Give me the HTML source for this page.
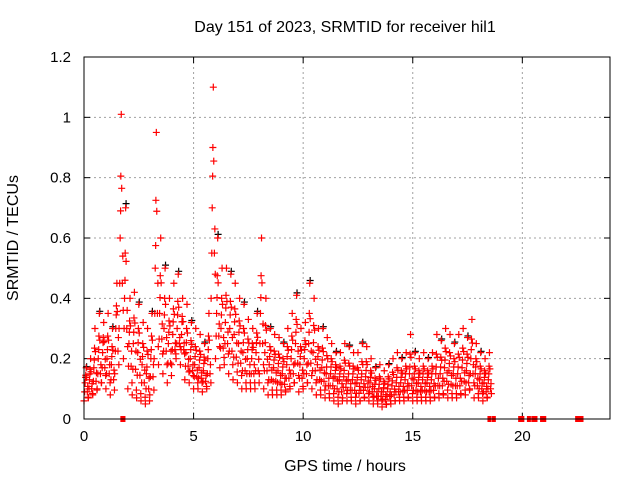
<!DOCTYPE html>
<html><head><meta charset="utf-8"><style>
body{margin:0;background:#fff;}
svg{display:block;font-family:"Liberation Sans",sans-serif;}
</style></head><body>
<svg id="c" width="640" height="480">
<text x="345" y="32" font-size="16" text-anchor="middle">Day 151 of 2023, SRMTID for receiver hil1</text>
<text x="345" y="471" font-size="16" text-anchor="middle">GPS time / hours</text>
<text transform="translate(18,238) rotate(-90)" font-size="16" text-anchor="middle">SRMTID / TECUs</text>
<g id="grid"></g><g id="ticks"></g><g id="marks"></g>
<rect x="84" y="57" width="526" height="362" fill="none" stroke="#000"/>
</svg>
<script>
const times=[0,0.2,0.4,0.6,0.8,1.0,1.2,1.4,1.6,1.8,2.0,2.2,2.4,2.6,2.8,3.0,3.2,3.4,3.6,3.8,4.0,4.2,4.4,4.6,4.8,5.0,5.2,5.4,5.6,5.8,6.0,6.2,6.4,6.6,6.8,7.0,7.2,7.4,7.6,7.8,8.0,8.2,8.4,8.6,8.8,9.0,9.2,9.4,9.6,9.8,10.0,10.2,10.4,10.6,10.8,11.0,11.2,11.4,11.6,11.8,12.0,12.2,12.4,12.6,12.8,13.0,13.2,13.4,13.6,13.8,14.0,14.2,14.4,14.6,14.8,15.0,15.2,15.4,15.6,15.8,16.0,16.2,16.4,16.6,16.8,17.0,17.2,17.4,17.6,17.8,18.0,18.2,18.4];
const hiVals=[0.17,0.2,0.3,0.35,0.32,0.35,0.3,0.45,1.01,0.7,0.4,0.42,0.38,0.32,0.3,0.35,0.95,0.6,0.5,0.4,0.45,0.48,0.4,0.38,0.32,0.3,0.28,0.25,0.35,1.1,0.6,0.5,0.5,0.48,0.45,0.4,0.38,0.33,0.3,0.35,0.6,0.4,0.3,0.28,0.27,0.25,0.3,0.35,0.41,0.3,0.32,0.45,0.4,0.3,0.3,0.27,0.25,0.22,0.22,0.25,0.24,0.22,0.22,0.25,0.24,0.2,0.17,0.18,0.16,0.18,0.2,0.22,0.2,0.22,0.28,0.22,0.2,0.22,0.2,0.22,0.28,0.26,0.3,0.28,0.25,0.28,0.3,0.27,0.33,0.25,0.22,0.2,0.22];
const midVals=[0.12,0.13,0.17,0.2,0.22,0.2,0.18,0.3,0.6,0.4,0.25,0.25,0.22,0.18,0.15,0.2,0.5,0.35,0.3,0.25,0.28,0.3,0.28,0.22,0.2,0.18,0.17,0.16,0.2,0.7,0.35,0.3,0.32,0.3,0.28,0.25,0.22,0.2,0.2,0.22,0.35,0.22,0.18,0.17,0.16,0.15,0.18,0.2,0.25,0.18,0.2,0.25,0.22,0.18,0.17,0.15,0.15,0.14,0.13,0.14,0.13,0.13,0.12,0.13,0.14,0.12,0.1,0.1,0.09,0.1,0.11,0.12,0.12,0.13,0.15,0.13,0.12,0.13,0.12,0.13,0.15,0.15,0.17,0.16,0.15,0.15,0.17,0.16,0.2,0.15,0.13,0.12,0.13];
const loVals=[0.06,0.07,0.08,0.1,0.12,0.1,0.08,0.15,0.3,0.2,0.1,0.08,0.07,0.06,0.05,0.08,0.2,0.18,0.15,0.12,0.18,0.2,0.18,0.13,0.12,0.1,0.1,0.09,0.1,0.4,0.2,0.17,0.18,0.15,0.13,0.12,0.1,0.1,0.1,0.1,0.15,0.1,0.08,0.08,0.08,0.08,0.09,0.1,0.12,0.09,0.1,0.12,0.1,0.08,0.08,0.07,0.07,0.06,0.05,0.07,0.06,0.06,0.05,0.06,0.07,0.06,0.05,0.05,0.04,0.05,0.05,0.06,0.06,0.06,0.07,0.06,0.06,0.06,0.06,0.06,0.07,0.07,0.08,0.07,0.07,0.07,0.08,0.08,0.1,0.07,0.07,0.06,0.07];
const zeroTimes=[1.75,1.8,18.5,18.7,19.9,20.0,20.3,20.5,20.6,20.9,21.0,22.5,22.6,22.7];
const xTicks=[0,5,10,15,20];
const yTicks=[0,0.2,0.4,0.6,0.8,1,1.2];
const yLabels=["0","0.2","0.4","0.6","0.8","1","1.2"];
const NS="http://www.w3.org/2000/svg";
const X0=84,X1=610,Y0=419,Y1=57;
function xs(t){return X0+(t/24)*(X1-X0);}
function ys(v){return Y0-(v/1.2)*(Y0-Y1);}
function mk(tag,a,p){const e=document.createElementNS(NS,tag);for(const k in a)e.setAttribute(k,a[k]);p.appendChild(e);return e;}
const grid=document.getElementById('grid'),tk=document.getElementById('ticks'),marks=document.getElementById('marks');
xTicks.forEach(t=>{const x=xs(t);
 if(t>0){const g=mk('line',{x1:x,x2:x,y1:Y1,y2:Y0,stroke:'#a0a0a0','stroke-dasharray':'2,3'},grid);
 
 }
 const l=mk('text',{x:x,y:Y0+22,'font-size':15,'text-anchor':'middle'},tk);l.textContent=t;
 
 
 mk('line',{x1:x,x2:x,y1:Y0,y2:Y0-6,stroke:'#000'},tk);mk('line',{x1:x,x2:x,y1:Y1,y2:Y1+6,stroke:'#000'},tk);});
yTicks.forEach((v,i)=>{const y=ys(v);
 if(v>0&&v<1.2){const g=mk('line',{x1:X0,x2:X1,y1:y,y2:y,stroke:'#a0a0a0','stroke-dasharray':'2,3'},grid);
 
 }
 const l=mk('text',{x:X0-13,y:y+5,'font-size':15,'text-anchor':'end'},tk);l.textContent=yLabels[i];
 
 
 mk('line',{x1:X0,x2:X0+6,y1:y,y2:y,stroke:'#000'},tk);mk('line',{x1:X1,x2:X1-6,y1:y,y2:y,stroke:'#000'},tk);});
function plus(t,v,c,name){const x=xs(t),y=ys(v);
 const p=mk('path',{d:`M${x-3.5},${y}h7M${x},${y-3.5}v7`,stroke:c,'stroke-width':1.2},marks);
 
 }
times.forEach((t,i)=>{if(i%3===0)plus(t+0.12,hiVals[i]*1.02,'#000','black-point');});
times.forEach((t,i)=>{
 const lo=loVals[i],mi=midVals[i],hi=hiVals[i];
 plus(t,lo,'#f00','red-point');
 plus(t+0.03,(lo+mi)/2,'#f00','red-point');
 plus(t+0.05,mi,'#f00','red-point');
 plus(t+0.07,mi*1.15,'#f00','red-point');
 plus(t+0.1,hi,'#f00','red-point');
 plus(t+0.08,(mi+hi)/2,'#f00','red-point');
 plus(t+0.12,(mi+hi)/2*0.95,'#f00','red-point');
 plus(t+0.15,(mi+lo)/2,'#f00','red-point');
 plus(t+0.17,mi*0.9,'#f00','red-point');
 plus(t+0.19,lo*1.2,'#f00','red-point');
});
zeroTimes.forEach(t=>{const r=mk('rect',{x:xs(t)-2,y:Y0-3,width:4,height:6,fill:'#f00'},marks);
 
 });
</script>
</body></html>
